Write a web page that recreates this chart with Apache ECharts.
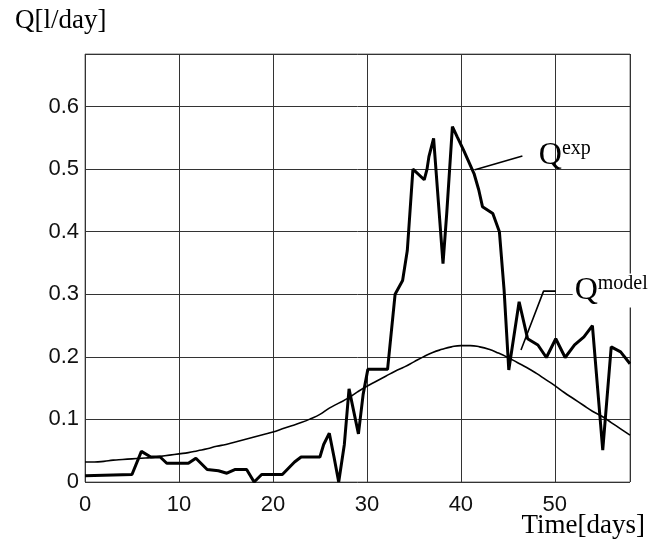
<!DOCTYPE html>
<html lang="en">
  <head>
    <meta charset="UTF-8" />
    <title>Q exp / Q model</title>
    <script src="https://cdn.jsdelivr.net/npm/echarts@6/dist/echarts.min.js"></script>
  </head>
  <body style="margin: 0; background: #fff">
    <div id="main" style="width: 663px; height: 548px"></div>

    <script>
      const expDays = [0, 5, 6, 7, 8, 8.7, 11, 11.8, 13, 14.2, 15.1, 16, 17.2, 18, 18.8, 21, 22.3, 23, 25, 25.4, 26, 26.5, 27, 27.6, 28.1, 28.5, 29.1, 29.6, 30.1, 32.2, 33, 33.8, 34.3, 34.9, 36.1, 36.4, 36.6, 37.1, 38.1, 38.5, 39.1, 39.6, 40.3, 41.4, 41.9, 42.3, 43.4, 44.1, 44.6, 45.1, 46.2, 47.1, 48.2, 49.1, 50.1, 51.1, 52.1, 53.1, 54, 55.1, 56, 57, 58]
      const expQ = [0.01, 0.012, 0.049, 0.04, 0.04, 0.03, 0.03, 0.038, 0.02, 0.018, 0.014, 0.02, 0.02, 0, 0.012, 0.012, 0.032, 0.04, 0.04, 0.06, 0.078, 0.04, 0, 0.06, 0.149, 0.12, 0.077, 0.14, 0.18, 0.18, 0.3, 0.322, 0.37, 0.5, 0.483, 0.5, 0.52, 0.549, 0.349, 0.43, 0.568, 0.552, 0.53, 0.493, 0.467, 0.44, 0.429, 0.4, 0.307, 0.179, 0.288, 0.229, 0.219, 0.199, 0.229, 0.199, 0.219, 0.232, 0.25, 0.051, 0.216, 0.208, 0.189]

      // model curve, one value per day
      const modelDays = [0, 1, 2, 3, 4, 5, 6, 7, 8, 9, 10, 11, 12, 13, 14, 15, 16, 17, 18, 19, 20, 21, 22, 23, 24, 25, 26, 27, 28, 29, 30, 31, 32, 33, 34, 35, 36, 37, 38, 39, 40, 41, 42, 43, 44, 45, 46, 47, 48, 49, 50, 51, 52, 53, 54, 55, 56, 57, 58]
      const modelQ = [0.032, 0.032, 0.033, 0.035, 0.036, 0.037, 0.038, 0.039, 0.041, 0.043, 0.045, 0.047, 0.05, 0.053, 0.057, 0.06, 0.064, 0.068, 0.072, 0.076, 0.08, 0.085, 0.09, 0.095, 0.101, 0.108, 0.118, 0.126, 0.134, 0.144, 0.153, 0.161, 0.169, 0.177, 0.184, 0.192, 0.2, 0.207, 0.212, 0.216, 0.218, 0.218, 0.216, 0.212, 0.206, 0.199, 0.191, 0.183, 0.174, 0.164, 0.154, 0.143, 0.133, 0.123, 0.113, 0.105, 0.095, 0.085, 0.075]

      // leader lines for the two curve names
      const expLeaderDays = [41.5, 46.55]
      const expLeaderQ = [0.499, 0.521]
      const modelLeaderDays = [46.4, 48.8, 50.1]
      const modelLeaderQ = [0.211, 0.305, 0.305]

      // where the names start (day, l/day at the bottom of the text box)
      const expNameAt = [48.3, 0.495]
      const modelNameAt = [51.9, 0.279]

      const xTicks = { min: 0, max: 58, interval: 10 }
      const yTicks = { min: 0, max: 0.684, interval: 0.1 }

      const pairs = (xs, ys) => xs.map((x, i) => [x, ys[i]])

      const serif = 'Liberation Serif'
      const sans = 'Liberation Sans'

      const myChart = echarts.init(document.getElementById('main'))

      const options = {
        animation: false,
        backgroundColor: '#fff',
        title: {
          text: 'Q[l/day]',
          left: 10,
          top: 2,
          textStyle: { fontFamily: serif, fontSize: 27, fontWeight: 'normal', color: '#000' },
        },
        grid: {
          left: 85,
          right: 33,
          top: 54,
          bottom: 66,
          containLabel: false,
          show: true,
          borderColor: '#777',
          borderWidth: 1,
        },
        xAxis: {
          type: 'value',
          min: xTicks.min,
          max: xTicks.max,
          interval: xTicks.interval,
          axisLine: { show: false },
          axisTick: { show: false },
          splitLine: { show: true, lineStyle: { color: '#333', width: 1 } },
          axisLabel: {
            showMaxLabel: false,
            margin: 12,
            fontFamily: sans,
            fontSize: 22,
            color: '#111',
          },
        },
        yAxis: {
          type: 'value',
          min: yTicks.min,
          max: yTicks.max,
          interval: yTicks.interval,
          axisLine: { show: false },
          axisTick: { show: false },
          splitLine: { show: true, lineStyle: { color: '#333', width: 1 } },
          axisLabel: {
            showMaxLabel: false,
            margin: 6,
            fontFamily: sans,
            fontSize: 22,
            color: '#111',
            formatter: v => (v === 0 ? '0' : v.toFixed(1)),
          },
        },
        series: [
          {
            name: 'Qmodel',
            type: 'line',
            data: pairs(modelDays, modelQ),
            showSymbol: false,
            smooth: true,
            lineStyle: { color: '#000', width: 1.6 },
            z: 3,
          },
          {
            name: 'Qexp',
            type: 'line',
            data: pairs(expDays, expQ),
            showSymbol: false,
            lineStyle: { color: '#000', width: 3 },
            z: 4,
          },
          {
            name: 'expLeader',
            type: 'line',
            data: pairs(expLeaderDays, expLeaderQ),
            showSymbol: false,
            lineStyle: { color: '#000', width: 1.6 },
            z: 4,
          },
          {
            name: 'modelLeader',
            type: 'line',
            data: pairs(modelLeaderDays, modelLeaderQ),
            showSymbol: false,
            lineStyle: { color: '#000', width: 1.6 },
            z: 4,
          },
        ],
      }
      myChart.setOption(options)

      // curve names with superscripts, placed from data coords
      function nameLabel(at, sup, withBg) {
        const p = myChart.convertToPixel({ gridIndex: 0 }, at)
        return {
          type: 'text',
          x: p[0],
          y: p[1],
          z: 10,
          style: {
            text: '{q|Q}{s|' + sup + '}',
            align: 'left',
            verticalAlign: 'bottom',
            backgroundColor: withBg ? '#fff' : null,
            padding: withBg ? [0, 2, 0, 2] : 0,
            rich: {
              q: { fontFamily: serif, fontSize: 32, color: '#000', lineHeight: 34 },
              s: { fontFamily: serif, fontSize: 20, color: '#000', verticalAlign: 'top', lineHeight: 34 },
            },
          },
        }
      }

      myChart.setOption({
        graphic: [
          nameLabel(expNameAt, 'exp', false),
          nameLabel(modelNameAt, 'model', true),
          {
            type: 'text',
            right: 18,
            top: 512,
            style: { text: 'Time[days]', fontFamily: serif, fontSize: 27, fill: '#000' },
          },
        ],
      })
    </script>
  </body>
</html>
